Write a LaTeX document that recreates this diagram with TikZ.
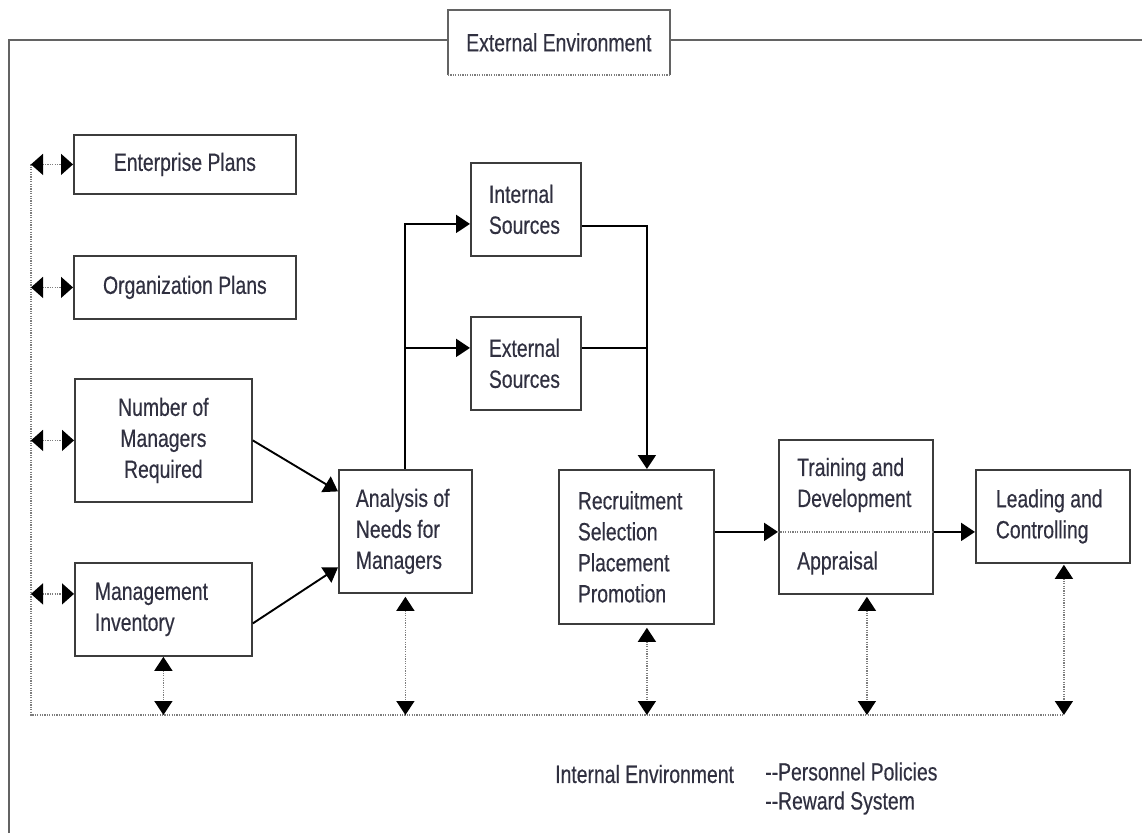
\documentclass[tikz,border=0pt]{standalone}
\usepackage{fontspec}
\setmainfont{Liberation Sans}[FakeStretch=0.775, FakeBold=0.4]
\usetikzlibrary{arrows.meta,calc}
\definecolor{ink}{RGB}{48,48,64}
\definecolor{edge}{RGB}{60,60,60}
\definecolor{dots}{RGB}{125,125,125}
\tikzset{
  tri/.tip={Triangle[length=14pt,width=18pt,color=black]},
  sidetri/.tip={Triangle[length=12pt,width=21pt,color=black]},
  box/.style={draw=edge, line width=1.8pt, anchor=north west, inner sep=0pt,
    font=\fontsize{25}{31}\selectfont, text=ink},
  cbox/.style={box, align=center},
  lbox/.style={box, align=flush left, text width=#1},
  label/.style={font=\fontsize{25}{31}\selectfont, text=ink, inner sep=0pt, align=flush left},
  flow/.style={draw=black, line width=1.9pt, -tri},
  plain/.style={draw=black, line width=1.9pt},
  dotline/.style={draw=dots, line width=1.4pt, dash pattern=on 1.2pt off 1.2pt},
  link/.style={dotline, tri-tri},
  sidelink/.style={dotline, sidetri-sidetri},
  frame/.style={draw=edge!80, line width=1.8pt}
}
\begin{document}
\begin{tikzpicture}[x=1pt,y=-1pt]
\useasboundingbox (0,0) rectangle (1142,833);

% title box on the outer frame
\node[box, draw=none, minimum width=220pt, minimum height=63pt, align=center] (env) at (448,10) {External Environment};
\draw[frame] (env.south west) -- (env.north west) -- (env.north east) -- (env.south east);
\draw[dotline] (env.south west) -- (env.south east);
\coordinate (ftop) at (9,40);
\draw[frame] (9,833) -- (ftop) -- (env.west |- ftop);
\draw[frame] (env.east |- ftop) -- (1142,40);

% planning inputs
\node[cbox, minimum width=222pt, minimum height=59pt] (ep) at (73,134) {Enterprise Plans};
\node[cbox, minimum width=222pt, minimum height=63pt] (op) at (73,255) {Organization Plans};
\node[cbox, minimum width=177pt, minimum height=123pt] (num) at (74,378) {Number of\\Managers\\Required};
\node[lbox=137pt, inner xsep=20pt, minimum width=177pt, minimum height=93pt] (mgmt) at (74,562) {Management\\Inventory};

% analysis and sources
\node[lbox=99pt, inner xsep=17pt, minimum width=133pt, minimum height=123pt] (anal) at (338,469) {Analysis of\\Needs for\\Managers};
\node[lbox=74pt, inner xsep=18pt, minimum width=110pt, minimum height=93pt] (int) at (470,162) {Internal\\Sources};
\node[lbox=74pt, inner xsep=18pt, minimum width=110pt, minimum height=93pt] (ext) at (470,316) {External\\Sources};

% staffing steps
\node[lbox=117pt, inner xsep=19pt, minimum width=155pt, minimum height=154pt] (recr) at (558,469) {Recruitment\\Selection\\Placement\\Promotion};
\node[box, minimum width=154pt, minimum height=154pt] (train) at (778,439) {};
\node[label, anchor=west] (tdtext) at (797,485) {Training and\\Development};
\node[label, anchor=west] (aptext) at (797,563) {Appraisal};
\node[lbox=114pt, inner xsep=20pt, minimum width=154pt, minimum height=93pt] (lead) at (975,469) {Leading and\\Controlling};

% internal environment caption
\node[label, anchor=west] (intenv) at (555,774) {Internal Environment};
\node[label, anchor=west, font=\fontsize{25}{29}\selectfont] (policies) at (765,788.5) {-{}-Personnel Policies\\-{}-Reward System};

% main flow
\draw[flow] (num.east) -- ([yshift=40pt]anal.west);
\draw[flow] ([yshift=-14pt]mgmt.east) -- ([yshift=-36pt]anal.west);
\coordinate (iin) at ([yshift=-14.5pt]int.west);
\coordinate (ein) at ([yshift=15.5pt]ext.west);
\draw[flow] (anal.north) |- (iin);
\draw[flow] (anal.north |- ein) -- (ein);
\coordinate (iout) at ([yshift=-16.5pt]int.east);
\coordinate (eout) at ([yshift=15.5pt]ext.east);
\coordinate (rin) at ([xshift=10.5pt]recr.north);
\draw[flow] (iout) -| (rin);
\draw[plain] (eout) -- (rin |- eout);
\coordinate (dl) at ([yshift=-15pt]train.west);
\coordinate (dr) at ([yshift=-15pt]train.east);
\draw[dotline] (dl) -- (dr);
\draw[flow] (recr.east |- dl) -- (dl);
\draw[flow] (dr) -- (lead.west |- dr);

% internal environment rail
\coordinate (bl) at (31,715);
\coordinate (mw) at ([yshift=15.5pt]mgmt.west);
\coordinate (rs) at ([xshift=10.5pt,yshift=-3pt]recr.south);
\coordinate (ts) at ([xshift=11pt,yshift=-2pt]train.south);
\coordinate (ls) at ([xshift=11pt,yshift=-1pt]lead.south);
\draw[dotline] (bl |- ep.west) -- (bl) -- (ls |- bl);
\draw[sidelink] (bl |- ep.west) -- (ep.west);
\draw[sidelink] (bl |- op.west) -- (op.west);
\draw[sidelink] (bl |- num.west) -- (num.west);
\draw[sidelink] (bl |- mw) -- (mw);
\draw[link] (mgmt.south) -- (mgmt.south |- bl);
\draw[link] ([yshift=-3pt]anal.south) -- (anal.south |- bl);
\draw[link] (rs) -- (rs |- bl);
\draw[link] (ts) -- (ts |- bl);
\draw[link] (ls) -- (ls |- bl);
\end{tikzpicture}
\end{document}
